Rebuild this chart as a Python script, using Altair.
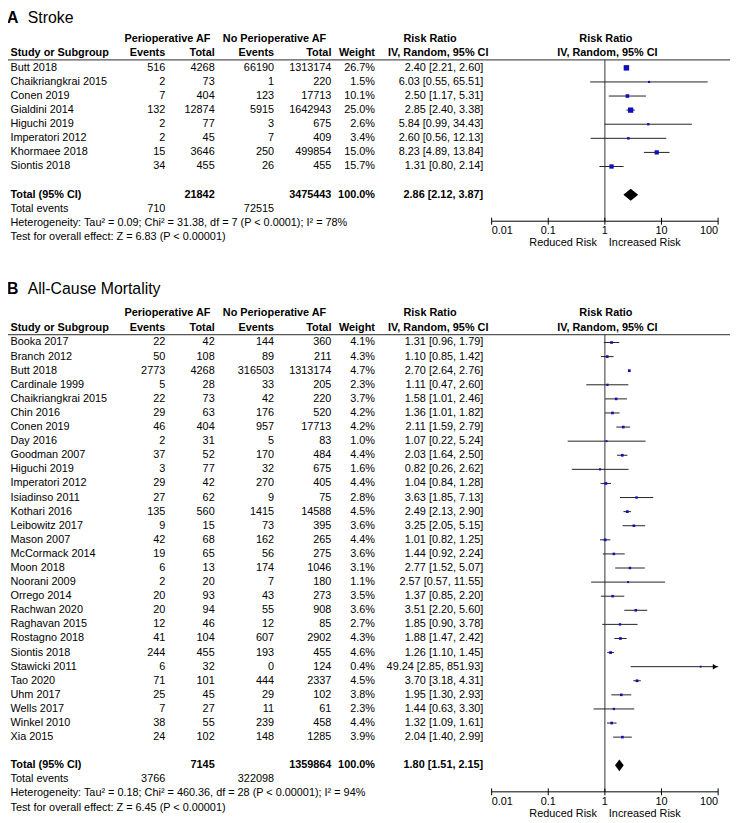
import altair as alt
import pandas as pd

FONT = "Liberation Sans"

# ---------------- Panel A: Stroke ----------------
title_a = ["A", "Stroke"]
studies_a = ["Butt 2018", "Chaikriangkrai 2015", "Conen 2019", "Gialdini 2014",
             "Higuchi 2019", "Imperatori 2012", "Khormaee 2018", "Siontis 2018"]
paf_events_a = [516, 2, 7, 132, 2, 2, 15, 34]
paf_total_a = [4268, 73, 404, 12874, 77, 45, 3646, 455]
no_events_a = [66190, 1, 123, 5915, 3, 7, 250, 26]
no_total_a = [1313174, 220, 17713, 1642943, 675, 409, 499854, 455]
weight_a = [26.7, 1.5, 10.1, 25.0, 2.6, 3.4, 15.0, 15.7]
rr_a = [2.40, 6.03, 2.50, 2.85, 5.84, 2.60, 8.23, 1.31]
lo_a = [2.21, 0.55, 1.17, 2.40, 0.99, 0.56, 4.89, 0.80]
hi_a = [2.60, 65.51, 5.31, 3.38, 34.43, 12.13, 13.84, 2.14]
total_a = [21842, 3475443, 100.0, 2.86, 2.12, 3.87]   # paf total, no total, weight, rr, lo, hi
events_a = [710, 72515]
het_a = "Heterogeneity: Tau² = 0.09; Chi² = 31.38, df = 7 (P < 0.0001); I² = 78%"
test_a = "Test for overall effect: Z = 6.83 (P < 0.00001)"

# ---------------- Panel B: All-Cause Mortality ----------------
title_b = ["B", "All-Cause Mortality"]
studies_b = ["Booka 2017", "Branch 2012", "Butt 2018", "Cardinale 1999", "Chaikriangkrai 2015",
             "Chin 2016", "Conen 2019", "Day 2016", "Goodman 2007", "Higuchi 2019",
             "Imperatori 2012", "Isiadinso 2011", "Kothari 2016", "Leibowitz 2017", "Mason 2007",
             "McCormack 2014", "Moon 2018", "Noorani 2009", "Orrego 2014", "Rachwan 2020",
             "Raghavan 2015", "Rostagno 2018", "Siontis 2018", "Stawicki 2011", "Tao 2020",
             "Uhm 2017", "Wells 2017", "Winkel 2010", "Xia 2015"]
paf_events_b = [22, 50, 2773, 5, 22, 29, 46, 2, 37, 3, 29, 27, 135, 9, 42, 19, 6, 2, 20, 20,
                12, 41, 244, 6, 71, 25, 7, 38, 24]
paf_total_b = [42, 108, 4268, 28, 73, 63, 404, 31, 52, 77, 42, 62, 560, 15, 68, 65, 13, 20, 93, 94,
               46, 104, 455, 32, 101, 45, 27, 55, 102]
no_events_b = [144, 89, 316503, 33, 42, 176, 957, 5, 170, 32, 270, 9, 1415, 73, 162, 56, 174, 7, 43,
               55, 12, 607, 193, 0, 444, 29, 11, 239, 148]
no_total_b = [360, 211, 1313174, 205, 220, 520, 17713, 83, 484, 675, 405, 75, 14588, 395, 265, 275,
              1046, 180, 273, 908, 85, 2902, 455, 124, 2337, 102, 61, 458, 1285]
weight_b = [4.1, 4.3, 4.7, 2.3, 3.7, 4.2, 4.2, 1.0, 4.4, 1.6, 4.4, 2.8, 4.5, 3.6, 4.4, 3.6, 3.1, 1.1,
            3.5, 3.6, 2.7, 4.3, 4.6, 0.4, 4.5, 3.8, 2.3, 4.4, 3.9]
rr_b = [1.31, 1.10, 2.70, 1.11, 1.58, 1.36, 2.11, 1.07, 2.03, 0.82, 1.04, 3.63, 2.49, 3.25, 1.01,
        1.44, 2.77, 2.57, 1.37, 3.51, 1.85, 1.88, 1.26, 49.24, 3.70, 1.95, 1.44, 1.32, 2.04]
lo_b = [0.96, 0.85, 2.64, 0.47, 1.01, 1.01, 1.59, 0.22, 1.64, 0.26, 0.84, 1.85, 2.13, 2.05, 0.82,
        0.92, 1.52, 0.57, 0.85, 2.20, 0.90, 1.47, 1.10, 2.85, 3.18, 1.30, 0.63, 1.09, 1.40]
hi_b = [1.79, 1.42, 2.76, 2.60, 2.46, 1.82, 2.79, 5.24, 2.50, 2.62, 1.28, 7.13, 2.90, 5.15, 1.25,
        2.24, 5.07, 11.55, 2.20, 5.60, 3.78, 2.42, 1.45, 851.93, 4.31, 2.93, 3.30, 1.61, 2.99]
total_b = [7145, 1359864, 100.0, 1.80, 1.51, 2.15]
events_b = [3766, 322098]
het_b = "Heterogeneity: Tau² = 0.18; Chi² = 460.36, df = 28 (P < 0.00001); I² = 94%"
test_b = "Test for overall effect: Z = 6.45 (P < 0.00001)"

# ---------------- Axis ----------------
tick_values = [0.01, 0.1, 1, 10, 100]
tick_labels = ["0.01", "0.1", "1", "10", "100"]
axis_captions = ["Reduced Risk", "Increased Risk"]

# ---------------- Layout (page pixel coordinates; chart origin at 8,8) ----------------
ORIGIN = 8
ROW = 14.25
COLX = dict(name=10.5, pe=167, pt=217, ne=277, nt=335, w=379, rr=488.5)
YPIX = alt.Scale(domain=[823, 8], nice=False, zero=False)
XLOG = alt.Scale(type="log", domain=[0.01, 100], range=[489, 718], clamp=True, nice=False)

texts, study_rows, sum_rows, axis_rows, tick_rows, hlines = [], [], [], [], [], []


def T(text, x, y, align="left", bold=False, size=11):
    texts.append(dict(text=str(text), x=x, y=y, align=align, bold=bold, size=size))


def fmt_rr(r, l, h):
    return f"{r:.2f} [{l:.2f}, {h:.2f}]"


def panel(key, off, title, studies, pe, pt, ne, nt, w, rr, lo, hi, total, events, het, test):
    ytitle = max(10 + off, 14)
    T(title[0], 7, ytitle, "left", True, 16)
    T(title[1], 28, ytitle, "left", False, 16)
    y1, y2 = 34.5 + off, 49.5 + off
    T("Perioperative AF", 169.2, y1, "center", True)
    T("No Perioperative AF", 277.5, y1, "center", True)
    T("Risk Ratio", 434.7, y1, "center", True)
    T("Risk Ratio", 612.5, y1, "center", True)
    T("Study or Subgroup", COLX["name"], y2, "left", True)
    T("Events", COLX["pe"], y2, "right", True)
    T("Total", COLX["pt"], y2, "right", True)
    T("Events", COLX["ne"], y2, "right", True)
    T("Total", COLX["nt"], y2, "right", True)
    T("Weight", COLX["w"], y2, "right", True)
    T("IV, Random, 95% CI", 443, y2, "center", True)
    T("IV, Random, 95% CI", 614, y2, "center", True)
    yline = 56 + off
    hlines.append(dict(y=yline))
    first = 64 + off
    for i, s in enumerate(studies):
        y = first + i * ROW
        T(s, COLX["name"], y)
        T(pe[i], COLX["pe"], y, "right")
        T(pt[i], COLX["pt"], y, "right")
        T(ne[i], COLX["ne"], y, "right")
        T(nt[i], COLX["nt"], y, "right")
        T(f"{w[i]:.1f}%", COLX["w"], y, "right")
        T(fmt_rr(rr[i], lo[i], hi[i]), COLX["rr"], y, "right")
        study_rows.append(dict(panel=key, y=y, rr=rr[i], lo=lo[i], hi=hi[i], w=w[i]))
    n = len(studies)
    yt = first + (n + 1) * ROW
    T("Total (95% CI)", COLX["name"], yt, "left", True)
    T(total[0], COLX["pt"], yt, "right", True)
    T(total[1], COLX["nt"], yt, "right", True)
    T(f"{total[2]:.1f}%", COLX["w"], yt, "right", True)
    T(fmt_rr(total[3], total[4], total[5]), COLX["rr"], yt, "right", True)
    ye = first + (n + 2) * ROW
    T("Total events", COLX["name"], ye)
    T(events[0], COLX["pe"], ye, "right")
    T(events[1], COLX["ne"], ye, "right")
    T(het, COLX["name"], first + (n + 3) * ROW)
    T(test, COLX["name"], first + (n + 4) * ROW)
    sum_rows.append(dict(panel=key, y=yt, est=total[3], lo=total[4], hi=total[5]))
    yaxis = yt + 26.8
    axis_rows.append(dict(panel=key, ytop=yline, yaxis=yaxis, yrisk=yaxis + 22, one=1.0,
                          lo_lim=tick_values[0], hi_lim=tick_values[-1],
                          reduced=axis_captions[0], increased=axis_captions[1]))
    for j, (v, lab) in enumerate(zip(tick_values, tick_labels)):
        al = "left" if j == 0 else ("right" if j == len(tick_values) - 1 else "center")
        tick_rows.append(dict(panel=key, v=v, label=lab, y1=yaxis - 3.5, y2=yaxis + 3.5,
                              ylab=yaxis + 10, align=al))


panel("A", 0.0, title_a, studies_a, paf_events_a, paf_total_a, no_events_a, no_total_a, weight_a,
      rr_a, lo_a, hi_a, total_a, events_a, het_a, test_a)
panel("B", 277.7, title_b, studies_b, paf_events_b, paf_total_b, no_events_b, no_total_b, weight_b,
      rr_b, lo_b, hi_b, total_b, events_b, het_b, test_b)

text_df = pd.DataFrame(texts)
study_df = pd.DataFrame(study_rows)
axis_df = pd.DataFrame(axis_rows)
tick_df = pd.DataFrame(tick_rows)
hline_df = pd.DataFrame(hlines)

# diamond outline: left tip, top/bottom at estimate, right tip
DIAM_H = 6
diam = []
for r in sum_rows:
    diam.append(dict(panel=r["panel"], x=r["lo"], yt=r["y"], yb=r["y"]))
    diam.append(dict(panel=r["panel"], x=r["est"], yt=r["y"] - DIAM_H, yb=r["y"] + DIAM_H))
    diam.append(dict(panel=r["panel"], x=r["hi"], yt=r["y"], yb=r["y"]))
diam_df = pd.DataFrame(diam)

Y = lambda f: alt.Y(f, scale=YPIX, axis=None)
XL = lambda f: alt.X(f, scale=XLOG, axis=None)

layers = []
# table text: one layer per column position / style
for (x, align, bold, size), g in text_df.groupby(["x", "align", "bold", "size"]):
    layers.append(
        alt.Chart(g.drop(columns=["x"])).mark_text(
            align=str(align), baseline="middle", font=FONT, fontSize=int(size),
            fontWeight="bold" if bool(bold) else "normal", color="black")
        .encode(x=alt.value(float(x) - ORIGIN), y=Y("y:Q"), text="text:N"))

# header separator lines
layers.append(
    alt.Chart(hline_df).mark_rule(color="#555555", strokeWidth=1.3)
    .encode(x=alt.value(0), x2=alt.value(730), y=Y("y:Q")))

# vertical line of no effect
layers.append(
    alt.Chart(axis_df).mark_rule(color="#333333", strokeWidth=1)
    .encode(x=XL("one:Q"), y=Y("ytop:Q"), y2="yaxis:Q"))
# axis line
layers.append(
    alt.Chart(axis_df).mark_rule(color="black", strokeWidth=1)
    .encode(x=XL("lo_lim:Q"), x2="hi_lim:Q", y=Y("yaxis:Q")))
# ticks
layers.append(
    alt.Chart(tick_df).mark_rule(color="black", strokeWidth=1)
    .encode(x=XL("v:Q"), y=Y("y1:Q"), y2="y2:Q"))
for al in ["left", "center", "right"]:
    layers.append(
        alt.Chart(tick_df).transform_filter(alt.datum.align == al)
        .mark_text(align=al, baseline="middle", font=FONT, fontSize=11, color="black")
        .encode(x=XL("v:Q"), y=Y("ylab:Q"), text="label:N"))
layers.append(
    alt.Chart(axis_df).mark_text(align="right", baseline="middle", dx=-8, font=FONT, fontSize=11,
                                 color="black")
    .encode(x=XL("one:Q"), y=Y("yrisk:Q"), text="reduced:N"))
layers.append(
    alt.Chart(axis_df).mark_text(align="left", baseline="middle", dx=4, font=FONT, fontSize=11,
                                 color="black")
    .encode(x=XL("one:Q"), y=Y("yrisk:Q"), text="increased:N"))

# confidence intervals
layers.append(
    alt.Chart(study_df).mark_rule(color="#222222", strokeWidth=1)
    .encode(x=XL("lo:Q"), x2="hi:Q", y=Y("y:Q")))
# arrows for CIs running beyond the axis
layers.append(
    alt.Chart(study_df).transform_filter(alt.datum.hi > tick_values[-1])
    .mark_point(shape="triangle-right", filled=True, color="black", size=30, opacity=1, xOffset=-3)
    .encode(x=XL("hi:Q"), y=Y("y:Q")))
# study squares
layers.append(
    alt.Chart(study_df).mark_square(color="#1010b8", opacity=1)
    .encode(x=XL("rr:Q"), y=Y("y:Q"),
            size=alt.Size("w:Q", scale=alt.Scale(domain=[0, 30], range=[3, 34]), legend=None)))
# pooled diamonds
layers.append(
    alt.Chart(diam_df).mark_area(color="black", opacity=1, orient="vertical")
    .encode(x=XL("x:Q"), y=Y("yt:Q"), y2="yb:Q", detail="panel:N"))

chart = (alt.layer(*layers)
         .properties(width=730, height=815, padding=0, autosize=alt.AutoSizeParams(type="none"))
         .configure_view(stroke=None))

chart.save("out.html", embed_options={"renderer": "svg", "actions": False})
